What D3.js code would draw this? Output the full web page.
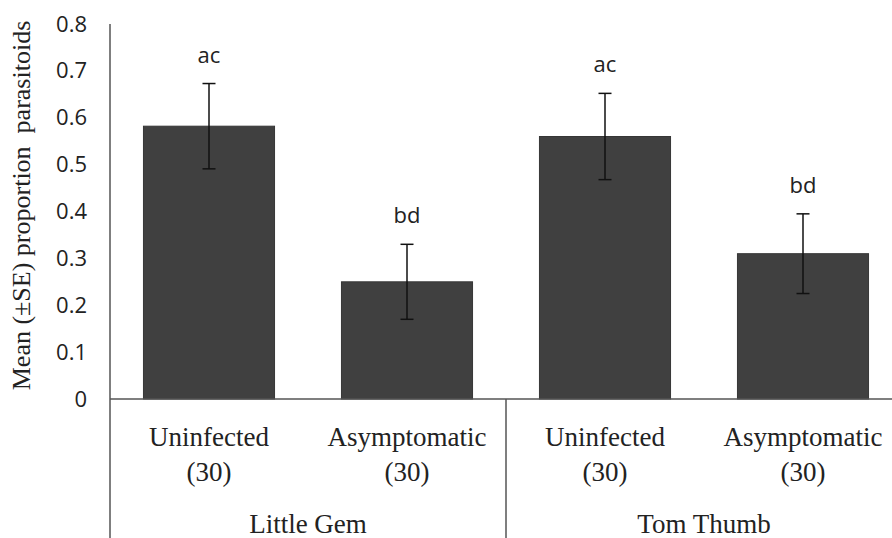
<!DOCTYPE html>
<html>
<head>
<meta charset="utf-8">
<script src="https://cdn.jsdelivr.net/npm/d3@7"></script>
<style>
  html, body { margin: 0; padding: 0; background: #fff; }
  svg { display: block; }
</style>
</head>
<body>
<svg id="chart" width="892" height="538"></svg>
<script>
// Cultivars and infection status
const groups = ["Little Gem", "Tom Thumb"];
const treatments = ["Uninfected", "Asymptomatic"];
// One bar per cultivar × status, in drawing order
const barGroups = ["Little Gem", "Little Gem", "Tom Thumb", "Tom Thumb"];
const barTreatments = ["Uninfected", "Asymptomatic", "Uninfected", "Asymptomatic"];
const sampleSizes = [30, 30, 30, 30];
const means = [0.582, 0.25, 0.56, 0.31];
const stdErrors = [0.091, 0.08, 0.092, 0.085];
const letters = ["ac", "bd", "ac", "bd"];
const yTicks = [0, 0.1, 0.2, 0.3, 0.4, 0.5, 0.6, 0.7, 0.8];
const yTitle = "Mean (\u00B1SE) proportion\u00A0 parasitoids";

(function () {
  const W = 892, H = 538;
  const plotLeft = 110, plotRight = 902, plotTop = 24, plotBottom = 399;

  const bars = means.map((m, i) => ({
    id: barGroups[i] + "|" + barTreatments[i],
    group: barGroups[i],
    treatment: barTreatments[i],
    n: sampleSizes[i],
    mean: m,
    se: stdErrors[i],
    letter: letters[i]
  }));

  const svg = d3.select("#chart");

  const x = d3.scaleBand()
    .domain(bars.map(d => d.id))
    .range([plotLeft, plotRight])
    .paddingInner(0.338)
    .paddingOuter(0.169);

  const y = d3.scaleLinear().domain([0, 0.8]).range([plotBottom, plotTop]);

  const sans = "'Open Sans', 'Noto Sans', sans-serif";
  const serif = "'Liberation Serif', 'Times New Roman', serif";
  const lineColor = "#555";

  // Y axis tick labels (no tick marks, no domain line)
  const yAxis = d3.axisLeft(y)
    .tickValues(yTicks)
    .tickSize(0)
    .tickPadding(23)
    .tickFormat(d => d === 0 ? "0" : d3.format(".1f")(d));

  const gy = svg.append("g")
    .attr("transform", `translate(${plotLeft},0)`)
    .call(yAxis);
  gy.select(".domain").remove();
  gy.selectAll("text")
    .attr("font-family", sans)
    .attr("font-size", 22)
    .attr("fill", "#222");

  // Bars
  svg.append("g").selectAll("rect")
    .data(bars)
    .join("rect")
    .attr("x", d => x(d.id))
    .attr("y", d => y(d.mean))
    .attr("width", x.bandwidth())
    .attr("height", d => y(0) - y(d.mean))
    .attr("fill", "#404040")
    .attr("stroke", "#363636")
    .attr("stroke-width", 1);

  // Error bars
  const capHalf = 6.5;
  const eb = svg.append("g")
    .attr("stroke", "#111")
    .attr("stroke-width", 1.5)
    .selectAll("g")
    .data(bars)
    .join("g")
    .attr("transform", d => `translate(${x(d.id) + x.bandwidth() / 2},0)`);
  eb.append("line")
    .attr("y1", d => y(d.mean + d.se))
    .attr("y2", d => y(d.mean - d.se));
  eb.append("line")
    .attr("x1", -capHalf).attr("x2", capHalf)
    .attr("y1", d => y(d.mean + d.se)).attr("y2", d => y(d.mean + d.se));
  eb.append("line")
    .attr("x1", -capHalf).attr("x2", capHalf)
    .attr("y1", d => y(d.mean - d.se)).attr("y2", d => y(d.mean - d.se));

  // Significance letters
  svg.append("g").selectAll("text")
    .data(bars)
    .join("text")
    .attr("x", d => x(d.id) + x.bandwidth() / 2)
    .attr("y", d => y(d.mean + d.se) - 21)
    .attr("text-anchor", "middle")
    .attr("font-family", sans)
    .attr("font-size", 22)
    .attr("fill", "#222")
    .text(d => d.letter);

  // Axis frame: baseline, left axis line and group divider
  const axisG = svg.append("g")
    .attr("stroke", lineColor)
    .attr("stroke-width", 1.5)
    .attr("fill", "none");
  axisG.append("line")
    .attr("x1", plotLeft).attr("x2", W)
    .attr("y1", y(0)).attr("y2", y(0));
  axisG.append("line")
    .attr("x1", plotLeft).attr("x2", plotLeft)
    .attr("y1", y(0.8)).attr("y2", H);
  const groupEdge = (x(bars[1].id) + x.bandwidth() + x(bars[2].id)) / 2;
  axisG.append("line")
    .attr("x1", groupEdge).attr("x2", groupEdge)
    .attr("y1", y(0)).attr("y2", H);

  // Category labels: treatment, sample size, cultivar
  const catG = svg.append("g")
    .attr("font-family", serif)
    .attr("font-size", 27)
    .attr("fill", "#222")
    .attr("text-anchor", "middle");
  catG.selectAll("text.treat")
    .data(bars)
    .join("text")
    .attr("class", "treat")
    .attr("x", d => x(d.id) + x.bandwidth() / 2)
    .attr("y", 446)
    .text(d => d.treatment);
  catG.selectAll("text.n")
    .data(bars)
    .join("text")
    .attr("class", "n")
    .attr("x", d => x(d.id) + x.bandwidth() / 2)
    .attr("y", 481)
    .text(d => `(${d.n})`);
  catG.selectAll("text.grp")
    .data(groups)
    .join("text")
    .attr("class", "grp")
    .attr("x", g => {
      const ids = bars.filter(b => b.group === g).map(b => b.id);
      return (x(ids[0]) + x(ids[ids.length - 1]) + x.bandwidth()) / 2;
    })
    .attr("y", 533)
    .text(g => g);

  // Y axis title
  svg.append("text")
    .attr("transform", `translate(30,205.5) rotate(-90)`)
    .attr("text-anchor", "middle")
    .attr("font-family", serif)
    .attr("font-size", 26)
    .attr("fill", "#222")
    .text(yTitle);
})();
</script>
</body>
</html>
